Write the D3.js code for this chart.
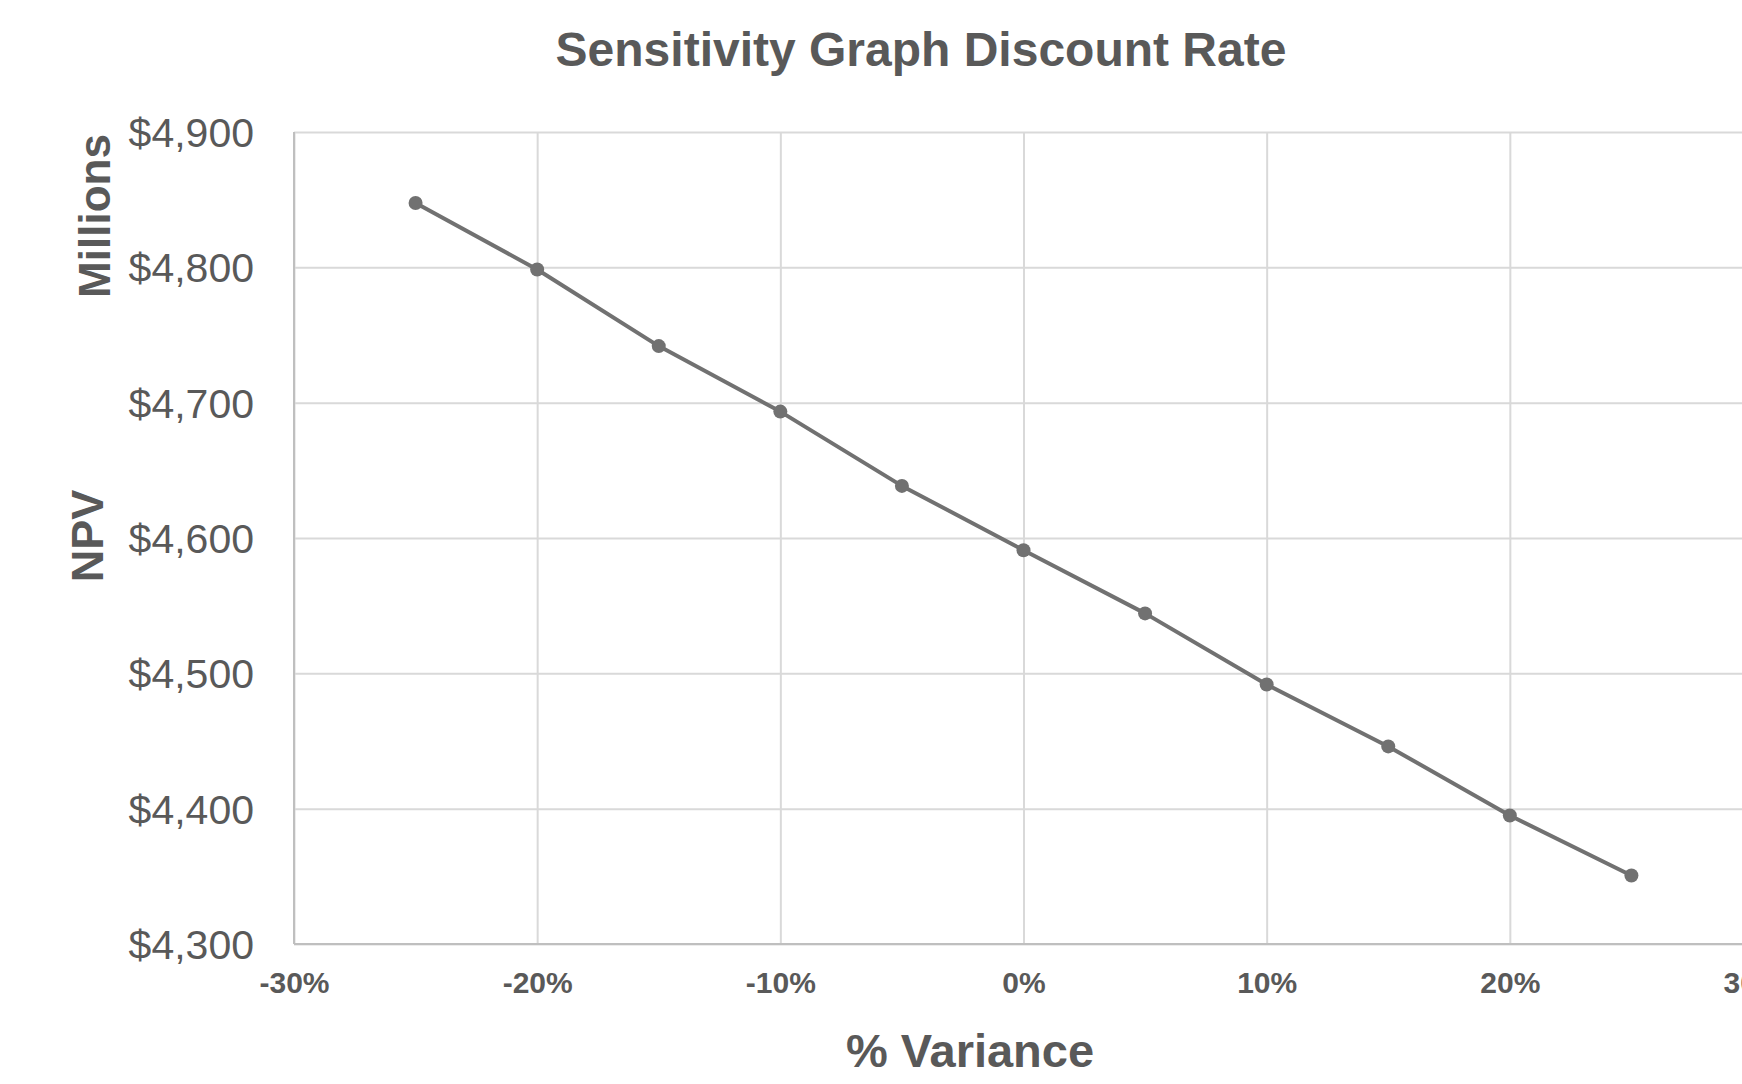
<!DOCTYPE html>
<html lang="en">
<head>
    <meta charset="UTF-8">
    <title>Sensitivity Graph Discount Rate</title>
    <script src="https://d3js.org/d3.v7.min.js"></script>
    <style>
        body {
            margin: 0;
            background: #fff;
            font-family: "Liberation Sans", Arial, sans-serif;
        }
        svg { display: block; }
        .grid line { stroke: #d9d9d9; stroke-width: 2; }
        .grid path { display: none; }
    </style>
</head>
<body>
    <div id="chart"></div>
    <script>
        // % variance of discount rate vs NPV ($ millions)
        const variance = [-0.25, -0.20, -0.15, -0.10, -0.05, 0, 0.05, 0.10, 0.15, 0.20, 0.25];
        const npv = [4847.5, 4798.4, 4741.8, 4693.4, 4638.5, 4591.0, 4544.3, 4491.8, 4446.0, 4395.0, 4350.6];
        const xTicks = [-0.3, -0.2, -0.1, 0, 0.1, 0.2, 0.3];
        const yTicks = [4300, 4400, 4500, 4600, 4700, 4800, 4900];

        const width = 1742, height = 1084;
        const margin = { top: 132, left: 294, bottom: 140 };
        const textColor = "#595959";
        const lineColor = "#717171";

        const x = d3.scaleLinear().domain([-0.3, 0.3]).range([margin.left, 1753]);
        const y = d3.scaleLinear().domain([4300, 4900]).range([height - margin.bottom, margin.top]);

        const svg = d3.select("#chart").append("svg")
            .attr("width", width).attr("height", height);

        // horizontal gridlines + y labels
        const yAxis = svg.append("g")
            .attr("class", "grid")
            .attr("transform", `translate(${margin.left},0)`)
            .call(d3.axisLeft(y).tickValues(yTicks)
                .tickFormat(d => "$" + d3.format(",")(d))
                .tickSize(-(x(0.3) - x(-0.3)))
                .tickPadding(40));
        yAxis.selectAll("text")
            .attr("dy", "0.35em")
            .style("font-size", "41px")
            .style("font-family", "'Liberation Sans', Arial, sans-serif")
            .attr("fill", textColor);

        // vertical gridlines + x labels (plain hyphen for negatives)
        const xAxis = svg.append("g")
            .attr("class", "grid")
            .attr("transform", `translate(0,${y(4300)})`)
            .call(d3.axisBottom(x).tickValues(xTicks)
                .tickFormat(d => Math.round(d * 100) + "%")
                .tickSize(-(y(4300) - y(4900)))
                .tickPadding(28));
        xAxis.selectAll("text")
            .style("font-size", "30px")
            .style("font-weight", "bold")
            .style("font-family", "'Liberation Sans', Arial, sans-serif")
            .attr("fill", textColor);

        // axis lines
        svg.append("line")
            .attr("x1", x(-0.3)).attr("x2", x(-0.3))
            .attr("y1", y(4900)).attr("y2", y(4300))
            .attr("stroke", "#bfbfbf").attr("stroke-width", 2);
        svg.append("line")
            .attr("x1", x(-0.3)).attr("x2", x(0.3))
            .attr("y1", y(4300)).attr("y2", y(4300))
            .attr("stroke", "#bfbfbf").attr("stroke-width", 2);

        const points = variance.map((v, i) => ({ v: v, npv: npv[i] }));

        svg.append("path")
            .datum(points)
            .attr("fill", "none")
            .attr("stroke", lineColor)
            .attr("stroke-width", 4)
            .attr("stroke-linejoin", "round")
            .attr("d", d3.line().x(d => x(d.v)).y(d => y(d.npv)));

        svg.selectAll("circle")
            .data(points)
            .enter().append("circle")
            .attr("cx", d => x(d.v))
            .attr("cy", d => y(d.npv))
            .attr("r", 7)
            .attr("fill", lineColor);

        // titles
        svg.append("text")
            .attr("x", 921).attr("y", 66)
            .attr("text-anchor", "middle")
            .style("font-size", "48px").style("font-weight", "bold")
            .attr("fill", textColor)
            .text("Sensitivity Graph Discount Rate");

        svg.append("text")
            .attr("x", 970).attr("y", 1067)
            .attr("text-anchor", "middle")
            .style("font-size", "47px").style("font-weight", "bold")
            .attr("fill", textColor)
            .text("% Variance");

        svg.append("text")
            .attr("transform", "translate(103,536) rotate(-90)")
            .attr("text-anchor", "middle")
            .style("font-size", "45px").style("font-weight", "bold")
            .attr("fill", textColor)
            .text("NPV");

        svg.append("text")
            .attr("transform", "translate(110,216) rotate(-90)")
            .attr("text-anchor", "middle")
            .style("font-size", "44px").style("font-weight", "bold")
            .attr("fill", textColor)
            .text("Millions");
    </script>
</body>
</html>
